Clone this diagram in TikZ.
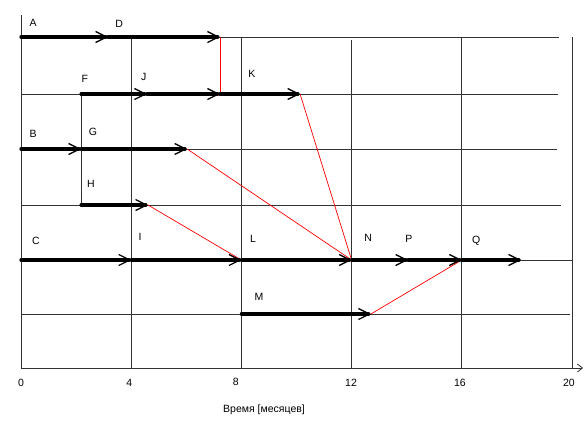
\documentclass[tikz,border=0pt]{standalone}
\usepackage{fontspec}
\setmainfont{Liberation Sans}
\usetikzlibrary{arrows.meta}
\tikzset{
	grid/.style={black!80, line width=0.8bp},
	task/.style={line width=3.2bp, line cap=round, -{Straight Barb[length=11bp,width=11bp,line width=1.3bp]}},
	link/.style={red, line width=0.7bp},
	lbl/.style={font=\fontsize{10.5bp}{12bp}\selectfont, inner sep=0pt},
}
\begin{document}
\begin{tikzpicture}[x=27.55bp, y=-1bp]
	\useasboundingbox (-0.762,0) rectangle (20.508,421);
	%grid
	\draw[grid] (0,15) -- (0,368);
	\draw[grid] (4,37) -- (4,368);
	\draw[grid] (8,37) -- (8,368);
	\draw[grid] (12,40) -- (12,368);
	\draw[grid] (16,37) -- (16,368);
	\draw[grid] (20.03,37) -- (20.03,368);
	\draw[grid] (0,37) -- (19.53,37);
	\draw[grid] (0,94) -- (19.5,94);
	\draw[grid] (0,149) -- (19.45,149);
	\draw[grid] (0,205) -- (19.6,205);
	\draw[grid] (0,260) -- (20.04,260);
	\draw[grid] (0,314) -- (19.93,314);
	\draw[grid, -{Straight Barb[length=5bp,width=8bp]}] (0,368) -- (20.4,368);
	%events
	\coordinate (sA) at (0,37);
	\coordinate (eA) at (3.16,37);
	\coordinate (eD) at (7.22,37);
	\coordinate (sF) at (2.18,94);
	\coordinate (eF) at (4.57,94);
	\coordinate (eJ) at (7.22,94);
	\coordinate (eK) at (10.13,94);
	\coordinate (sB) at (0,149);
	\coordinate (eB) at (2.18,149);
	\coordinate (eG) at (6.03,149);
	\coordinate (sH) at (2.18,205);
	\coordinate (eH) at (4.61,205);
	\coordinate (sC) at (0,260);
	\coordinate (eC) at (4,260);
	\coordinate (eI) at (8,260);
	\coordinate (eL) at (12,260);
	\coordinate (eN) at (14.05,260);
	\coordinate (eP) at (16,260);
	\coordinate (eQ) at (18.15,260);
	\coordinate (sM) at (8,314);
	\coordinate (eM) at (12.7,314);
	%split of F and H
	\draw[grid] (sF) -- (sH);
	%links
	\draw[link] (eD) -- (eJ);
	\draw[link] (eK) -- (eL);
	\draw[link] (eG) -- (eL);
	\draw[link] (eH) -- (eI);
	\draw[link] (eM) -- (eP);
	%activities
	\draw[task] (sA) -- (eA);
	\draw[task] (eA) -- (eD);
	\draw[task] (sF) -- (eF);
	\draw[task] (eF) -- (eJ);
	\draw[task] (eJ) -- (eK);
	\draw[task] (sB) -- (eB);
	\draw[task] (eB) -- (eG);
	\draw[task] (sH) -- (eH);
	\draw[task] (sC) -- (eC);
	\draw[task] (eC) -- (eI);
	\draw[task] (eI) -- (eL);
	\draw[task] (eL) -- (eN);
	\draw[task] (eN) -- (eP);
	\draw[task] (eP) -- (eQ);
	\draw[task] (sM) -- (eM);
	%labels
	\node[lbl] (lblA) at (0.44,23) {A};
	\node[lbl] (lblD) at (3.56,24) {D};
	\node[lbl] (lblF) at (2.32,79) {F};
	\node[lbl] (lblJ) at (4.46,77) {J};
	\node[lbl] (lblK) at (8.38,74) {K};
	\node[lbl] (lblB) at (0.44,134) {B};
	\node[lbl] (lblG) at (2.61,132) {G};
	\node[lbl] (lblH) at (2.54,184) {H};
	\node[lbl] (lblC) at (0.54,241) {C};
	\node[lbl] (lblI) at (4.32,237) {I};
	\node[lbl] (lblL) at (8.42,239) {L};
	\node[lbl] (lblM) at (8.64,297) {M};
	\node[lbl] (lblN) at (12.6,238) {N};
	\node[lbl] (lblP) at (14.08,239) {P};
	\node[lbl] (lblQ) at (16.52,241) {Q};
	%ticks
	\node[lbl] (t0) at (0,383) {0};
	\node[lbl] (t4) at (3.93,383) {4};
	\node[lbl] (t8) at (7.8,382) {8};
	\node[lbl] (t12) at (11.98,383) {12};
	\node[lbl] (t16) at (15.93,383) {16};
	\node[lbl] (t20) at (19.89,383) {20};
	\node[lbl] (title) at (8.82,410) {Время [месяцев]};
\end{tikzpicture}
\end{document}
